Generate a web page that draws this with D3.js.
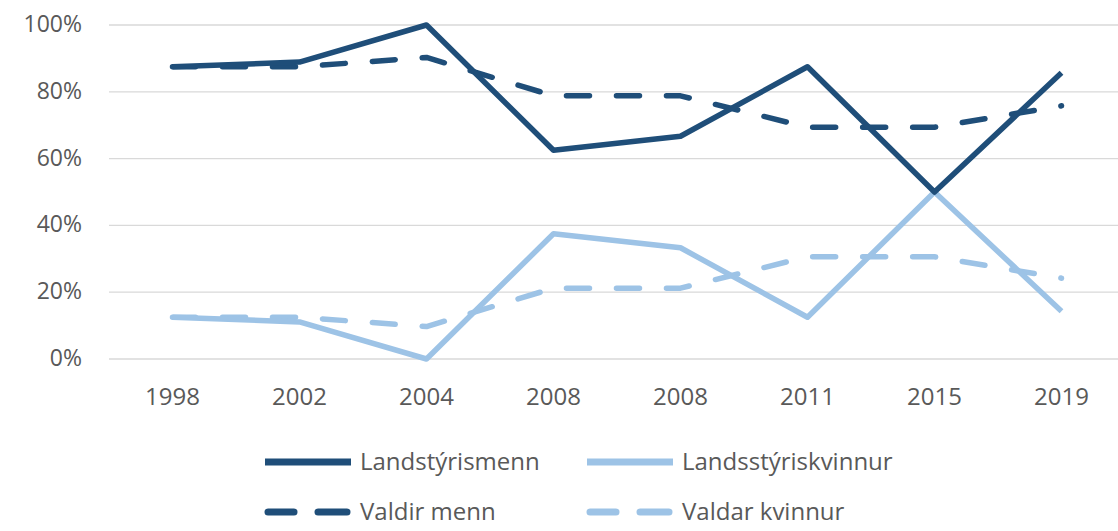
<!DOCTYPE html>
<head>
  <meta http-equiv="Content-Type" content="text/html; charset=utf-8">
  <style>
    body { margin: 0; background: #fff; }
    text { font-family: "Open Sans", sans-serif; fill: #595959; }
  </style>
</head>
<body></body>
<script src="https://d3js.org/d3.v7.min.js"></script>
<script>

var width = 1118,
    height = 531;

// data
var years = ["1998", "2002", "2004", "2008", "2008", "2011", "2015", "2019"];
var landstyrismenn   = [87.5, 88.9, 100, 62.5, 66.7, 87.5, 50, 85.7];
var landsstyriskvinnur = [12.5, 11.1, 0, 37.5, 33.3, 12.5, 50, 14.3];
var valdirMenn     = [87.5, 87.5, 90.3, 78.8, 78.8, 69.4, 69.4, 75.8];
var valdarKvinnur  = [12.5, 12.5, 9.7, 21.2, 21.2, 30.6, 30.6, 24.2];
var yTicks = [0, 20, 40, 60, 80, 100];

var series = [
  {name: "Landstýrismenn",     values: landstyrismenn,     color: "#1f4e79", dash: null},
  {name: "Landsstýriskvinnur", values: landsstyriskvinnur, color: "#9dc3e6", dash: null},
  {name: "Valdir menn",        values: valdirMenn,         color: "#1f4e79", dash: "23,27"},
  {name: "Valdar kvinnur",     values: valdarKvinnur,      color: "#9dc3e6", dash: "23,27"}
];

var svg = d3.select("body").append("svg")
    .attr("width", width)
    .attr("height", height);

var xs = d3.scaleBand()
    .domain(d3.range(years.length))
    .range([109, 1125]);
var ys = d3.scaleLinear()
    .domain([0, 100])
    .range([359, 25]);

// gridlines
svg.selectAll(".grid")
    .data(yTicks)
    .enter()
    .append("line")
    .attr("x1", 109)
    .attr("x2", width)
    .attr("y1", function(d){ return ys(d); })
    .attr("y2", function(d){ return ys(d); })
    .attr("stroke", "#d9d9d9")
    .attr("stroke-width", 1.3);

// y labels
svg.selectAll(".ylab")
    .data(yTicks)
    .enter()
    .append("text")
    .attr("x", 82)
    .attr("y", function(d){ return ys(d) + 7; })
    .attr("text-anchor", "end")
    .style("font-size", "23px")
    .text(function(d){ return d + "%"; });

// x labels
svg.selectAll(".xlab")
    .data(years)
    .enter()
    .append("text")
    .attr("x", function(d, i){ return xs(i) + xs.bandwidth() / 2; })
    .attr("y", 405)
    .attr("text-anchor", "middle")
    .style("font-size", "24px")
    .text(function(d){ return d; });

var line = d3.line()
    .x(function(d, i){ return xs(i) + xs.bandwidth() / 2; })
    .y(function(d){ return ys(d); });

// light series first so the dark ones sit on top
var order = [3, 1, 2, 0];
order.forEach(function(k){
  var s = series[k];
  svg.append("path")
    .attr("d", line(s.values))
    .attr("fill", "none")
    .attr("stroke", s.color)
    .attr("stroke-width", 5.5)
    .attr("stroke-linejoin", "round")
    .attr("stroke-linecap", s.dash ? "round" : "butt")
    .attr("stroke-dasharray", s.dash);
});

// legend
var legendPos = [
  {x: 265, y: 462}, {x: 587, y: 462},
  {x: 265, y: 512}, {x: 587, y: 512}
];
series.forEach(function(s, i){
  var p = legendPos[i];
  var g = svg.append("g").attr("transform", "translate(" + p.x + "," + p.y + ")");
  if (s.dash) {
    g.append("line").attr("x1", 3).attr("x2", 29).attr("y1", 0).attr("y2", 0)
      .attr("stroke", s.color).attr("stroke-width", 7).attr("stroke-linecap", "round");
    g.append("line").attr("x1", 53).attr("x2", 82).attr("y1", 0).attr("y2", 0)
      .attr("stroke", s.color).attr("stroke-width", 7).attr("stroke-linecap", "round");
  } else {
    g.append("line").attr("x1", 0).attr("x2", 86).attr("y1", 0).attr("y2", 0)
      .attr("stroke", s.color).attr("stroke-width", 7);
  }
  g.append("text")
    .attr("x", 95)
    .attr("y", 8)
    .style("font-size", "24px")
    .text(s.name);
});

</script>
</html>
